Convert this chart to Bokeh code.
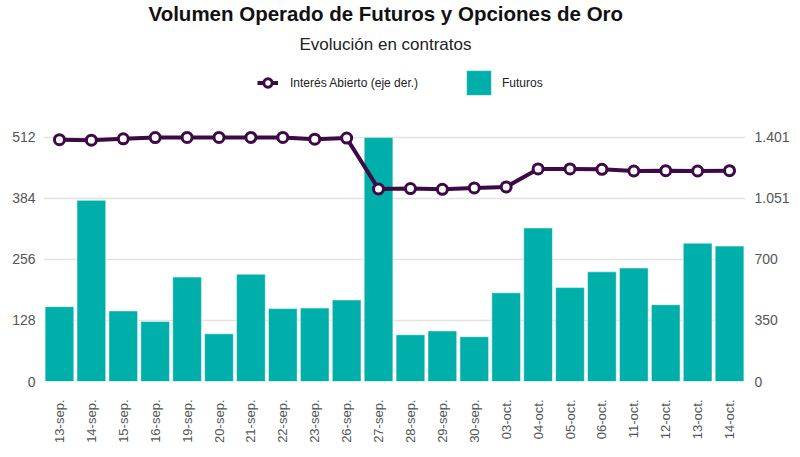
from bokeh.plotting import figure
from bokeh.models import (Range1d, LinearAxis, FixedTicker, Legend, LegendItem,
                          Title, ColumnDataSource)
from bokeh.embed import file_html
from bokeh.resources import INLINE
import math

# datos
fechas = ['13-sep.', '14-sep.', '15-sep.', '16-sep.', '19-sep.', '20-sep.',
          '21-sep.', '22-sep.', '23-sep.', '26-sep.', '27-sep.', '28-sep.',
          '29-sep.', '30-sep.', '03-oct.', '04-oct.', '05-oct.', '06-oct.',
          '11-oct.', '12-oct.', '13-oct.', '14-oct.']
futuros = [157, 380, 148, 126, 219, 100, 225, 153, 154, 171, 512, 98,
           106, 94, 186, 322, 197, 230, 238, 161, 290, 284]
interes_abierto = [1388, 1385, 1393, 1400, 1401, 1401, 1401, 1401, 1391, 1397,
                   1105, 1107, 1103, 1111, 1117, 1220, 1220, 1218, 1208, 1210,
                   1208, 1210]

ticks_izq = [0, 128, 256, 384, 512]
ticks_der = [0, 350.25, 700.5, 1050.75, 1401]
etiquetas_der = ['0', '350', '700', '1.051', '1.401']

TEAL = '#00AFA9'
MORADO = '#3D0A45'
GRIS = '#555555'
FUENTE = 'Liberation Sans'

# espacio libre arriba para la leyenda
top_izq = 667
top_der = ticks_der[-1] * top_izq / ticks_izq[-1]

src = ColumnDataSource(dict(fecha=fechas, fut=futuros, oi=interes_abierto))

p = figure(x_range=fechas, y_range=Range1d(0, top_izq),
           width=792, height=445, output_backend="svg", toolbar_location=None,
           min_border_left=43, min_border_right=46, min_border_top=0,
           min_border_bottom=0, outline_line_color=None)
p.extra_y_ranges = {'oi': Range1d(0, top_der)}
p.x_range.range_padding = 0

barras = p.vbar(x='fecha', top='fut', width=0.9, source=src, fill_color=TEAL,
                line_color='white', line_width=0.5)
linea = p.line(x='fecha', y='oi', source=src, y_range_name='oi',
               line_color=MORADO, line_width=4)
puntos = p.scatter(x='fecha', y='oi', source=src, y_range_name='oi', size=10,
                   fill_color='white', line_color=MORADO, line_width=3)

# ejes
p.yaxis.ticker = FixedTicker(ticks=ticks_izq)
p.ygrid.ticker = FixedTicker(ticks=ticks_izq)
p.ygrid.grid_line_color = '#e3e3e3'
p.ygrid.grid_line_width = 1.5
p.xgrid.grid_line_color = None

eje_der = LinearAxis(y_range_name='oi',
                     ticker=FixedTicker(ticks=ticks_der),
                     major_label_overrides={t: l for t, l in zip(ticks_der, etiquetas_der)})
p.add_layout(eje_der, 'right')

for ax in [p.yaxis[0], eje_der, p.xaxis[0]]:
    ax.axis_line_color = None
    ax.major_tick_line_color = None
    ax.minor_tick_line_color = None
    ax.major_label_text_font = FUENTE
    ax.major_label_text_color = GRIS
    ax.major_label_text_font_size = '14px'
for ax in [p.yaxis[0], eje_der]:
    ax.major_tick_out = 0
    ax.major_tick_in = 0
p.yaxis[0].major_label_standoff = 8
eje_der.major_label_standoff = 9
p.xaxis.major_label_orientation = math.pi / 2
p.xaxis.major_label_text_font_size = '13px'
p.xaxis.major_label_standoff = 12

# leyendas dentro del marco, en la zona libre superior
estilo = dict(orientation='horizontal', border_line_color=None,
              background_fill_alpha=0, label_text_font=FUENTE,
              label_text_font_size='12px', label_text_color='#222222',
              padding=0, margin=0)
ley_oi = Legend(items=[LegendItem(label='Interés Abierto (eje der.)', renderers=[linea, puntos])],
                location=(214, 286), glyph_width=21, glyph_height=25,
                label_standoff=12, **estilo)
ley_fut = Legend(items=[LegendItem(label='Futuros', renderers=[barras])],
                 location=(420, 283), glyph_width=31, glyph_height=31,
                 label_standoff=8, **estilo)
p.add_layout(ley_oi)
p.add_layout(ley_fut)

p.add_layout(Title(text='Evolución en contratos', align='left',
                   text_font=FUENTE, text_font_size='17px',
                   text_font_style='normal', text_color='#222222',
                   offset=256, standoff=19), 'above')
p.add_layout(Title(text='Volumen Operado de Futuros y Opciones de Oro',
                   align='left', text_font=FUENTE, text_font_size='20.5px',
                   text_font_style='bold', text_color='#111111',
                   offset=105, standoff=-2), 'above')

open("out.html", "w").write(file_html(p, INLINE))
